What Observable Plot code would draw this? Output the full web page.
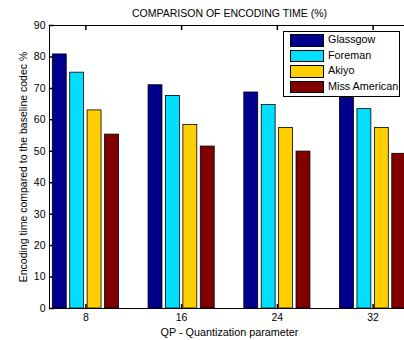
<!DOCTYPE html>
<html>
<head>
<meta charset="utf-8">
<script src="https://cdn.jsdelivr.net/npm/d3@7"></script>
<script src="https://cdn.jsdelivr.net/npm/@observablehq/plot@0.6"></script>
<style>
  html, body { margin: 0; padding: 0; background: white; }
  #wrap { position: relative; width: 404px; height: 340px; overflow: hidden; font-family: "Liberation Sans", Arial, sans-serif; }
  #legend { position: absolute; left: 283px; top: 31px; width: 115px; height: 64px; border: 1px solid black; background: white; }
  .row { position: absolute; left: 0; height: 12px; }
  .sw { position: absolute; left: 6px; width: 32px; height: 10.5px; border: 1px solid black; }
  .lab { position: absolute; left: 44px; top: -1px; font-size: 10.8px; line-height: 13px; white-space: nowrap; color: #000; }
</style>
</head>
<body>
<div id="wrap"><div id="chart"></div><div id="legend"></div></div>
<script>
const qpLabels = ["8", "16", "24", "32"];
const series = ["Glassgow", "Foreman", "Akiyo", "Miss American"];
const colors = ["#00008F", "#00DFFF", "#FFCF00", "#800000"];
const glassgow = [80.8, 71.0, 68.7, 67.0];
const foreman = [75.0, 67.6, 64.7, 63.4];
const akiyo = [63.0, 58.4, 57.4, 57.4];
const missAmerican = [55.3, 51.5, 49.9, 49.2];
const yTicks = [0, 10, 20, 30, 40, 50, 60, 70, 80, 90];
const xTicks = [1, 2, 3, 4];
const title = "COMPARISON OF ENCODING TIME (%)";
const xLabel = "QP - Quantization parameter";
const yLabel = "Encoding time compared to the baseline codec %";

const values = [glassgow, foreman, akiyo, missAmerican];
const n = series.length;
const groupWidth = Math.min(0.8, n / (n + 1.5));
const pitch = groupWidth / n;
const barWidth = 0.8 * pitch;
const data = [];
values.forEach((vals, si) => vals.forEach((v, gi) => {
  const c = gi + 1 + (si - (n - 1) / 2) * pitch;
  data.push({series: series[si], x1: c - barWidth / 2, x2: c + barWidth / 2, value: v});
}));

const tickShape = {draw(context, l) { context.moveTo(0, 0); context.lineTo(0, -l); }};

const chart = Plot.plot({
  width: 404,
  height: 340,
  marginLeft: 49,
  marginRight: -5,
  marginTop: 25,
  marginBottom: 32,
  style: {fontFamily: "'Liberation Sans', Arial, sans-serif", fontSize: "10.5px", background: "white", color: "black"},
  x: {domain: [0.62, 4.38]},
  y: {domain: [0, 90]},
  color: {domain: series, range: colors},
  marks: [
    Plot.rectY(data, {x1: "x1", x2: "x2", y: "value", fill: "series", stroke: "black", strokeWidth: 0.8}),
    Plot.frame({stroke: "black", strokeWidth: 1}),
    Plot.axisY({ticks: yTicks, tickSize: 0, tickPadding: 4, label: null}),
    Plot.axisX({ticks: xTicks, tickFormat: d => qpLabels[d - 1], tickSize: 0, tickPadding: 5, label: null}),
    Plot.vector(yTicks, {y: d => d, frameAnchor: "left", length: 4, rotate: 90, anchor: "start", shape: tickShape, stroke: "black"}),
    Plot.vector(xTicks, {x: d => d, frameAnchor: "bottom", length: 4, rotate: 0, anchor: "start", shape: tickShape, stroke: "black"}),
    Plot.vector(xTicks, {x: d => d, frameAnchor: "top", length: 4, rotate: 180, anchor: "start", shape: tickShape, stroke: "black"}),
    Plot.text([title], {frameAnchor: "top", dy: -12, lineAnchor: "middle", textAnchor: "middle", fontSize: 10.5, fill: "black"}),
    Plot.text([xLabel], {frameAnchor: "bottom", dy: 24, lineAnchor: "middle", textAnchor: "middle", fontSize: 10.8, fill: "black"}),
    Plot.text([yLabel], {frameAnchor: "left", dx: -26, rotate: -90, lineAnchor: "middle", textAnchor: "middle", fontSize: 10.5, fill: "black"})
  ]
});
document.getElementById("chart").appendChild(chart);

const legend = document.getElementById("legend");
series.forEach((s, i) => {
  const row = document.createElement("div");
  row.className = "row";
  row.style.top = (2 + i * 15.5) + "px";
  const sw = document.createElement("div");
  sw.className = "sw";
  sw.style.background = colors[i];
  const lab = document.createElement("div");
  lab.className = "lab";
  lab.textContent = s;
  row.appendChild(sw);
  row.appendChild(lab);
  legend.appendChild(row);
});
</script>
</body>
</html>
